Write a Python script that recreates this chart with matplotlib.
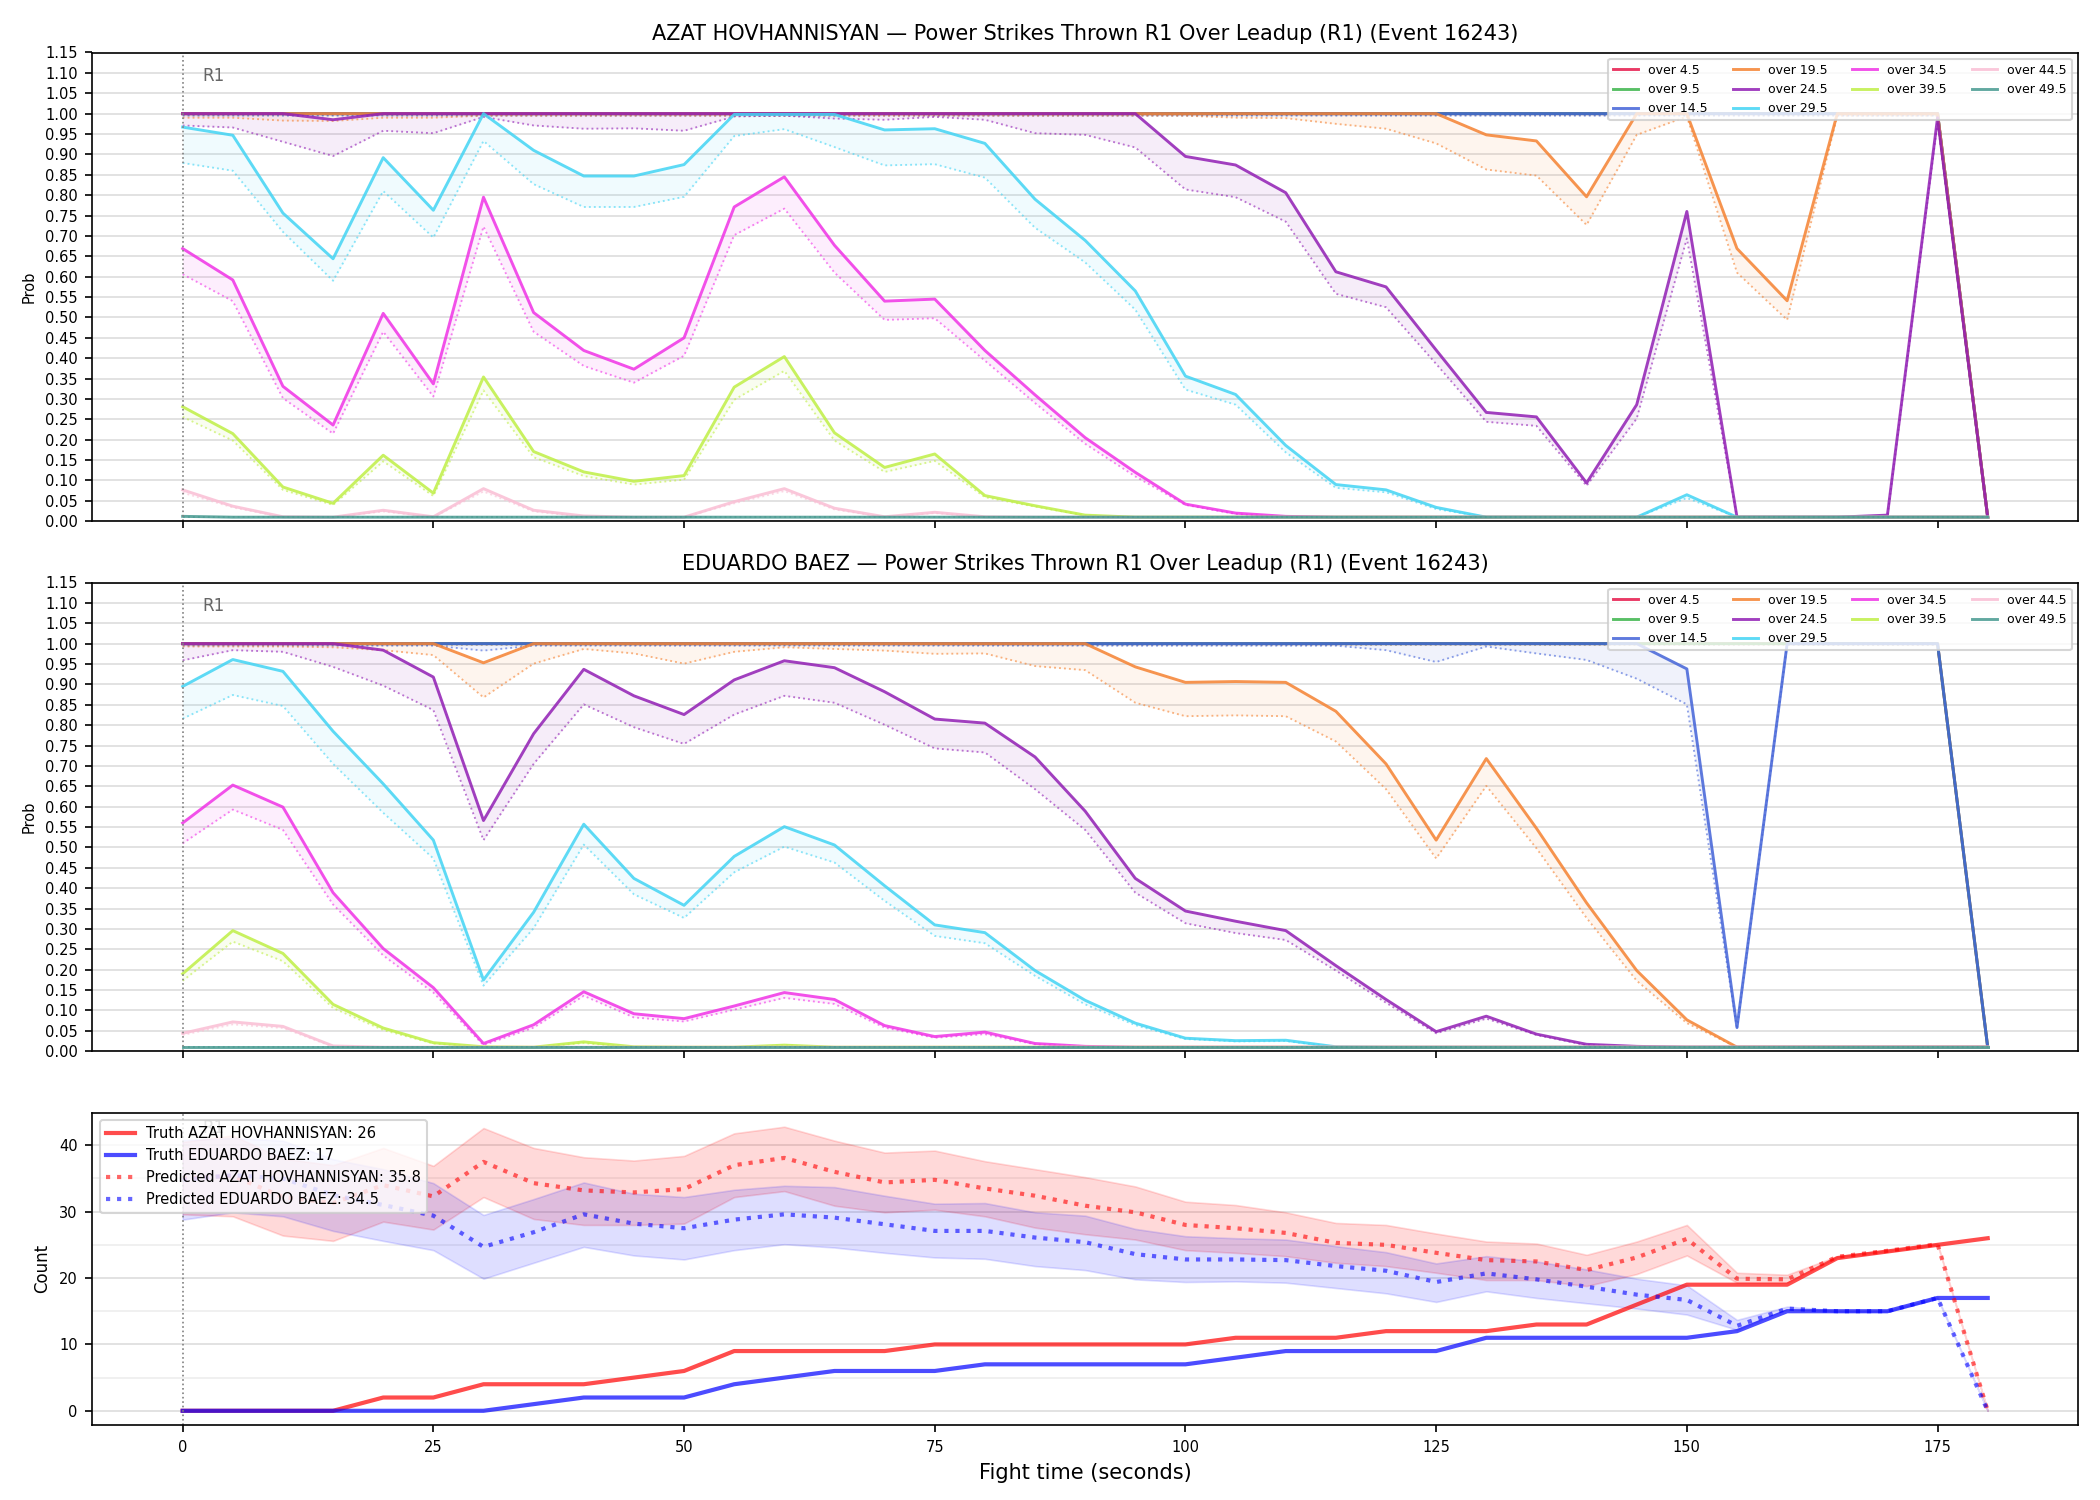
import matplotlib
matplotlib.use("Agg")
import matplotlib.pyplot as plt
import matplotlib.transforms as mtransforms
from matplotlib.ticker import MultipleLocator

# ---- data ----
t = [0, 5, 10, 15, 20, 25, 30, 35, 40, 45, 50, 55, 60, 65, 70, 75, 80, 85, 90,
     95, 100, 105, 110, 115, 120, 125, 130, 135, 140, 145, 150, 155, 160, 165,
     170, 175, 180]

thresholds = ["over 4.5", "over 9.5", "over 14.5", "over 19.5", "over 24.5",
              "over 29.5", "over 34.5", "over 39.5", "over 44.5", "over 49.5"]
colors = ["#e6194b", "#3cb44b", "#4363d8", "#f58231", "#911eb4",
          "#42d4f4", "#f032e6", "#bfef45", "#fabed4", "#469990"]

ONE = [1.0] * 36 + [0.01]
ONE_LO = [0.998] * 36 + [0.01]
FLOOR = [0.01] * 37

# AZAT HOVHANNISYAN: solid = upper, dotted = lower
a_hi = {
    "over 4.5": ONE,
    "over 9.5": ONE,
    "over 14.5": ONE,
    "over 19.5": [1.0] * 26 + [0.948, 0.933, 0.796, 1.0, 1.0, 0.669, 0.541, 1.0, 1.0, 1.0, 0.01],
    "over 24.5": [1.0, 1.0, 1.0, 0.985, 1.0, 1.0, 1.0, 1.0, 1.0, 1.0, 1.0, 1.0, 1.0, 1.0,
                  1.0, 1.0, 1.0, 1.0, 1.0, 1.0, 0.895, 0.874, 0.806, 0.612, 0.575, 0.42,
                  0.267, 0.256, 0.094, 0.286, 0.76, 0.01, 0.01, 0.01, 0.015, 0.99, 0.01],
    "over 29.5": [0.967, 0.947, 0.756, 0.644, 0.892, 0.763, 1.0, 0.910, 0.847, 0.847,
                  0.875, 0.998, 0.998, 0.998, 0.960, 0.963, 0.927, 0.79, 0.689, 0.565,
                  0.356, 0.311, 0.186, 0.09, 0.077, 0.034, 0.01, 0.01, 0.01, 0.01, 0.065,
                  0.01, 0.01, 0.01, 0.01, 0.01, 0.01],
    "over 34.5": [0.669, 0.592, 0.331, 0.236, 0.51, 0.337, 0.795, 0.512, 0.419, 0.373,
                  0.45, 0.771, 0.845, 0.677, 0.54, 0.545, 0.419, 0.31, 0.205, 0.12,
                  0.042, 0.02, 0.012] + [0.01] * 14,
    "over 39.5": [0.281, 0.215, 0.084, 0.044, 0.162, 0.069, 0.354, 0.171, 0.121, 0.098,
                  0.112, 0.329, 0.404, 0.217, 0.132, 0.165, 0.063, 0.038, 0.015] + [0.01] * 18,
    "over 44.5": [0.077, 0.037, 0.011, 0.01, 0.027, 0.011, 0.08, 0.027, 0.013, 0.01,
                  0.01, 0.048, 0.08, 0.032, 0.011, 0.022, 0.011] + [0.01] * 20,
    "over 49.5": [0.012] + [0.01] * 36,
}
a_lo = {
    "over 4.5": ONE_LO,
    "over 9.5": ONE_LO,
    "over 14.5": [0.995] * 36 + [0.01],
    "over 19.5": [0.99, 0.99, 0.983, 0.982, 0.99, 0.99, 0.995, 0.995, 0.995, 0.995,
                  0.995, 0.995, 0.995, 0.995, 0.995, 0.995, 0.995, 0.995, 0.995, 0.995,
                  0.995, 0.99, 0.989, 0.975, 0.963, 0.927, 0.863, 0.848, 0.727, 0.948,
                  0.993, 0.61, 0.494, 0.995, 0.995, 0.995, 0.01],
    "over 24.5": [0.971, 0.966, 0.931, 0.896, 0.958, 0.952, 0.992, 0.971, 0.963, 0.964,
                  0.958, 0.993, 0.995, 0.988, 0.985, 0.992, 0.985, 0.952, 0.948, 0.917,
                  0.814, 0.795, 0.735, 0.558, 0.525, 0.386, 0.244, 0.234, 0.087, 0.252,
                  0.694, 0.01, 0.01, 0.01, 0.012, 0.98, 0.01],
    "over 29.5": [0.879, 0.860, 0.71, 0.59, 0.81, 0.696, 0.933, 0.827, 0.771, 0.771,
                  0.796, 0.945, 0.962, 0.918, 0.873, 0.876, 0.843, 0.72, 0.635, 0.519,
                  0.323, 0.286, 0.169, 0.082, 0.071, 0.03, 0.01, 0.01, 0.01, 0.01, 0.057,
                  0.01, 0.01, 0.01, 0.01, 0.01, 0.01],
    "over 34.5": [0.606, 0.54, 0.302, 0.215, 0.465, 0.306, 0.723, 0.465, 0.381, 0.34,
                  0.406, 0.702, 0.767, 0.61, 0.494, 0.498, 0.394, 0.29, 0.19, 0.11,
                  0.04, 0.018, 0.01] + [0.01] * 14,
    "over 39.5": [0.256, 0.198, 0.077, 0.04, 0.147, 0.062, 0.321, 0.157, 0.111, 0.09,
                  0.102, 0.298, 0.369, 0.198, 0.121, 0.148, 0.059, 0.036, 0.014] + [0.01] * 18,
    "over 44.5": [0.07, 0.034, 0.01, 0.01, 0.024, 0.01, 0.073, 0.024, 0.011, 0.01,
                  0.01, 0.044, 0.074, 0.029, 0.01, 0.02, 0.01] + [0.01] * 20,
    "over 49.5": FLOOR,
}

# EDUARDO BAEZ
b_hi = {
    "over 4.5": ONE,
    "over 9.5": ONE,
    "over 14.5": [1.0] * 30 + [0.938, 0.058, 1.0, 1.0, 1.0, 1.0, 0.01],
    "over 19.5": [1.0] * 6 + [0.953] + [1.0] * 12 +
                 [0.943, 0.905, 0.907, 0.905, 0.834, 0.705, 0.518, 0.718, 0.547, 0.364,
                  0.198, 0.077] + [0.01] * 6,
    "over 24.5": [1.0, 1.0, 1.0, 1.0, 0.984, 0.918, 0.566, 0.779, 0.937, 0.872, 0.826,
                  0.911, 0.958, 0.941, 0.882, 0.815, 0.805, 0.722, 0.589, 0.424, 0.344,
                  0.319, 0.296, 0.21, 0.127, 0.048, 0.086, 0.042, 0.017, 0.012] + [0.01] * 7,
    "over 29.5": [0.895, 0.961, 0.932, 0.785, 0.656, 0.518, 0.175, 0.341, 0.557, 0.424,
                  0.358, 0.478, 0.551, 0.506, 0.406, 0.31, 0.291, 0.198, 0.125, 0.069,
                  0.032, 0.026, 0.027, 0.011] + [0.01] * 13,
    "over 34.5": [0.56, 0.653, 0.599, 0.389, 0.252, 0.156, 0.019, 0.065, 0.146, 0.092,
                  0.08, 0.111, 0.144, 0.127, 0.063, 0.036, 0.047, 0.019, 0.012] + [0.01] * 18,
    "over 39.5": [0.19, 0.296, 0.24, 0.115, 0.057, 0.021, 0.011, 0.01, 0.023, 0.011,
                  0.01, 0.01, 0.015] + [0.01] * 24,
    "over 44.5": [0.044, 0.072, 0.061, 0.013] + [0.01] * 33,
    "over 49.5": FLOOR,
}
b_lo = {
    "over 4.5": ONE_LO,
    "over 9.5": ONE_LO,
    "over 14.5": [0.995] * 6 + [0.983] + [0.995] * 17 +
                 [0.984, 0.955, 0.993, 0.976, 0.96, 0.914, 0.851, 0.055, 0.998, 0.998,
                  0.998, 0.998, 0.01],
    "over 19.5": [0.993, 0.993, 0.993, 0.991, 0.984, 0.972, 0.868, 0.951, 0.987, 0.976,
                  0.951, 0.98, 0.991, 0.987, 0.983, 0.975, 0.976, 0.945, 0.935, 0.855,
                  0.822, 0.824, 0.822, 0.76, 0.643, 0.473, 0.651, 0.498, 0.327, 0.173,
                  0.069] + [0.01] * 6,
    "over 24.5": [0.959, 0.984, 0.98, 0.943, 0.897, 0.837, 0.518, 0.705, 0.851, 0.795,
                  0.754, 0.826, 0.872, 0.855, 0.801, 0.743, 0.733, 0.643, 0.543, 0.389,
                  0.314, 0.29, 0.273, 0.198, 0.119, 0.044, 0.08, 0.04, 0.015, 0.01] + [0.01] * 7,
    "over 29.5": [0.816, 0.874, 0.847, 0.705, 0.585, 0.473, 0.161, 0.302, 0.507, 0.385,
                  0.327, 0.439, 0.502, 0.463, 0.369, 0.283, 0.265, 0.185, 0.115, 0.064,
                  0.03, 0.024, 0.025, 0.01] + [0.01] * 13,
    "over 34.5": [0.51, 0.593, 0.543, 0.36, 0.235, 0.144, 0.015, 0.058, 0.136, 0.083,
                  0.073, 0.102, 0.131, 0.116, 0.058, 0.033, 0.042, 0.017, 0.011] + [0.01] * 18,
    "over 39.5": [0.173, 0.269, 0.221, 0.106, 0.052, 0.019, 0.01, 0.01, 0.02, 0.01,
                  0.01, 0.01, 0.014] + [0.01] * 24,
    "over 44.5": [0.04, 0.066, 0.057, 0.011] + [0.01] * 33,
    "over 49.5": FLOOR,
}

# Counts
truth_a = [0, 0, 0, 0, 2, 2, 4, 4, 4, 5, 6, 9, 9, 9, 9, 10, 10, 10, 10, 10, 10, 11, 11,
           11, 12, 12, 12, 13, 13, 16, 19, 19, 19, 23, 24, 25, 26]
truth_b = [0, 0, 0, 0, 0, 0, 0, 1, 2, 2, 2, 4, 5, 6, 6, 6, 7, 7, 7, 7, 7, 8, 9, 9, 9, 9,
           11, 11, 11, 11, 11, 12, 15, 15, 15, 17, 17]
pred_a = [35.0, 35.4, 32.2, 31.3, 34.0, 32.3, 37.5, 34.3, 33.2, 32.9, 33.4, 37.0, 38.1,
          36.0, 34.4, 34.8, 33.5, 32.4, 30.9, 29.9, 28.0, 27.5, 26.8, 25.3, 25.0, 23.8,
          22.7, 22.5, 21.2, 23.1, 25.9, 19.9, 19.8, 23.2, 24.1, 25.1, 0.0]
pred_a_lo = [29.6, 29.3, 26.4, 25.6, 28.5, 27.3, 32.2, 28.9, 28.0, 28.0, 28.2, 32.2, 33.1,
             30.9, 29.9, 30.3, 29.3, 27.6, 26.6, 25.8, 24.2, 23.8, 23.3, 22.3, 21.8, 20.8,
             19.7, 19.7, 18.8, 20.6, 23.4, 19.3, 19.3, 23.1, 24.0, 25.0, 0.0]
pred_a_hi = [40.5, 41.5, 38.0, 37.0, 39.6, 36.9, 42.6, 39.6, 38.2, 37.7, 38.4, 41.8, 42.8,
             40.7, 38.9, 39.2, 37.6, 36.4, 35.2, 33.8, 31.5, 31.0, 29.9, 28.3, 28.0, 26.7,
             25.5, 25.2, 23.5, 25.5, 28.0, 20.8, 20.5, 23.3, 24.2, 25.2, 0.0]
pred_b = [34.8, 35.5, 35.0, 32.5, 31.0, 29.4, 24.7, 26.9, 29.6, 28.2, 27.5, 28.8, 29.6,
          29.1, 28.1, 27.1, 27.1, 26.1, 25.4, 23.6, 22.8, 22.8, 22.7, 21.8, 21.1, 19.4,
          20.7, 19.8, 18.7, 17.5, 16.7, 12.8, 15.4, 15.0, 15.0, 17.0, 0.0]
pred_b_lo = [28.8, 29.9, 29.3, 27.1, 25.6, 24.2, 19.9, 22.3, 24.7, 23.4, 22.8, 24.2, 25.1,
             24.6, 23.8, 23.1, 22.9, 21.8, 21.2, 19.8, 19.4, 19.5, 19.3, 18.5, 17.7, 16.4,
             18.0, 17.0, 16.2, 15.4, 14.5, 12.2, 15.3, 14.9, 14.9, 16.9, 0.0]
pred_b_hi = [40.8, 41.1, 40.7, 37.9, 36.4, 34.3, 29.5, 31.9, 34.4, 32.7, 32.2, 33.3, 33.9,
             33.7, 32.4, 31.2, 31.3, 29.9, 29.4, 27.4, 26.3, 26.0, 25.8, 24.8, 23.9, 22.2,
             23.3, 22.5, 21.3, 19.9, 18.9, 13.7, 15.7, 15.1, 15.1, 17.1, 0.0]

fighter_a = "AZAT HOVHANNISYAN"
fighter_b = "EDUARDO BAEZ"
event = "16243"

# ---- plotting ----
fig, axes = plt.subplots(3, 1, figsize=(14, 10), dpi=150, sharex=True,
                         gridspec_kw={"height_ratios": [3, 3, 2]})
fig.subplots_adjust(left=0.044, right=0.9895, top=0.965, bottom=0.05, hspace=0.147)


def prob_panel(ax, name, hi, lo):
    for lab, col in zip(thresholds, colors):
        ax.fill_between(t, lo[lab], hi[lab], color=col, alpha=0.08, linewidth=0)
        ax.plot(t, hi[lab], color=col, lw=1.4, alpha=0.85, label=lab)
        ax.plot(t, lo[lab], color=col, lw=0.9, alpha=0.6, ls=":")
    ax.set_ylim(0, 1.15)
    ax.yaxis.set_major_locator(MultipleLocator(0.05))
    ax.grid(axis="y", color="#dddddd", lw=0.8)
    ax.set_axisbelow(True)
    ax.set_ylabel("Prob", fontsize=7)
    ax.tick_params(labelsize=7)
    ax.set_title(f"{name} \u2014 Power Strikes Thrown R1 Over Leadup (R1) (Event {event})",
                 fontsize=10)
    ax.axvline(0, color="grey", ls=":", lw=0.8)
    tr = mtransforms.blended_transform_factory(ax.transData, ax.transAxes)
    ax.text(2, 0.95, "R1", transform=tr, fontsize=8, color="#666666", va="center")
    ax.legend(loc="upper right", ncol=4, fontsize=6, framealpha=0.8)


prob_panel(axes[0], fighter_a, a_hi, a_lo)
prob_panel(axes[1], fighter_b, b_hi, b_lo)

ax = axes[2]
ax.fill_between(t, pred_a_lo, pred_a_hi, color="red", alpha=0.15, edgecolor="red", lw=0.8)
ax.fill_between(t, pred_b_lo, pred_b_hi, color="blue", alpha=0.13, edgecolor="blue", lw=0.8)
ax.plot(t, truth_a, color="red", lw=2, alpha=0.7, label=f"Truth {fighter_a}: {truth_a[-1]}")
ax.plot(t, truth_b, color="blue", lw=2, alpha=0.7, label=f"Truth {fighter_b}: {truth_b[-1]}")
ax.plot(t, pred_a, color="red", lw=2, alpha=0.6, ls=":", label=f"Predicted {fighter_a}: 35.8")
ax.plot(t, pred_b, color="blue", lw=2, alpha=0.6, ls=":", label=f"Predicted {fighter_b}: 34.5")
ax.yaxis.set_major_locator(MultipleLocator(10))
ax.yaxis.set_minor_locator(MultipleLocator(5))
ax.tick_params(which="minor", length=0)
ax.grid(axis="y", which="major", color="#dddddd", lw=0.8)
ax.grid(axis="y", which="minor", color="#eeeeee", lw=0.8)
ax.set_axisbelow(True)
ax.axvline(0, color="grey", ls=":", lw=0.8)
tr = mtransforms.blended_transform_factory(ax.transData, ax.transAxes)
ax.text(2, 0.95, "R1", transform=tr, fontsize=8, color="#666666", va="center")
ax.set_ylabel("Count", fontsize=8)
ax.set_xlabel("Fight time (seconds)", fontsize=10)
ax.tick_params(labelsize=7)
ax.set_xticks([0, 25, 50, 75, 100, 125, 150, 175])
ax.legend(loc="upper left", fontsize=7, framealpha=0.8)

fig.savefig("out.png", dpi=150)
